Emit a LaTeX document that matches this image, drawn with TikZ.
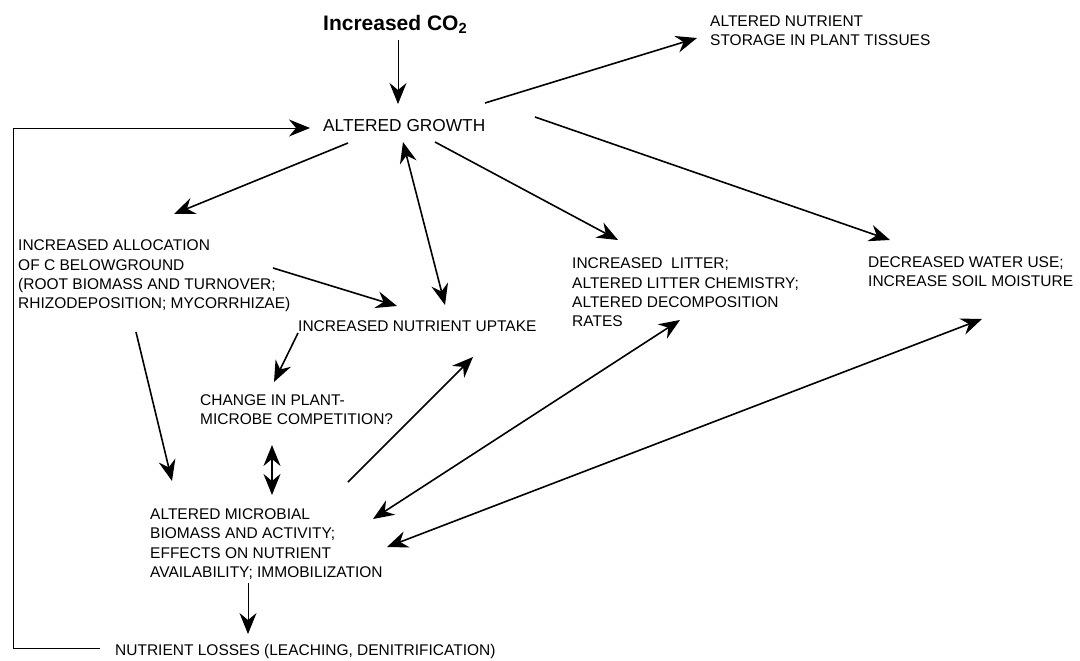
\documentclass[tikz,border=0pt]{standalone}
\usepackage{fontspec}
\setmainfont{Liberation Sans}
\usetikzlibrary{arrows.meta}
\begin{document}
\begin{tikzpicture}[x=1pt,y=-1pt,
  tip/.tip={Stealth[length=21pt,width=17pt,inset=7pt]},
  lbl/.style={anchor=west,inner sep=0pt,align=left,font=\fontsize{15.5}{19.3}\selectfont},
  arr/.style={line width=1.6pt,-tip},
  darr/.style={line width=1.6pt,tip-tip},
  tarr/.style={line width=1pt,-tip}]
\useasboundingbox (0,0) rectangle (1080,661);

% nodes
\node[anchor=west,inner sep=0pt,font=\fontsize{21}{24}\selectfont\bfseries] (co2) at (323,24) {Increased CO\textsubscript{2}};
\node[lbl,font=\fontsize{17.3}{20}\selectfont] (growth) at (323,126) {ALTERED GROWTH};
\node[lbl] (storage) at (710,31) {ALTERED NUTRIENT\\STORAGE IN PLANT TISSUES};
\node[lbl] (alloc) at (18,276) {INCREASED ALLOCATION\\OF C BELOWGROUND\\(ROOT BIOMASS AND TURNOVER;\\RHIZODEPOSITION; MYCORRHIZAE)};
\node[lbl] (litter) at (572,292.5) {INCREASED\ \ LITTER;\\ALTERED LITTER CHEMISTRY;\\ALTERED DECOMPOSITION\\RATES};
\node[lbl] (water) at (868,272) {DECREASED WATER USE;\\INCREASE SOIL MOISTURE};
\node[lbl] (uptake) at (298,326) {INCREASED NUTRIENT UPTAKE};
\node[lbl] (compet) at (200,410) {CHANGE IN PLANT-\\MICROBE COMPETITION?};
\node[lbl] (microb) at (150,544) {ALTERED MICROBIAL\\BIOMASS AND ACTIVITY;\\EFFECTS ON NUTRIENT\\AVAILABILITY; IMMOBILIZATION};
\node[lbl] (losses) at (115,651) {NUTRIENT LOSSES (LEACHING, DENITRIFICATION)};

% connector end points
\coordinate (co2s) at (398,40);
\coordinate (gtop) at (398,104);
\coordinate (gst) at (485,103);
\coordinate (stw) at (697,38);
\coordinate (gwa) at (535,117);
\coordinate (wan) at (890,240);
\coordinate (gal) at (348,143);
\coordinate (aln) at (174,214);
\coordinate (gup) at (403,142);
\coordinate (upg) at (445,305);
\coordinate (gli) at (435,142);
\coordinate (lin) at (618,240);
\coordinate (alu) at (273,268);
\coordinate (uaw) at (397,306);
\coordinate (upc) at (298,333);
\coordinate (cpn) at (274,382);
\coordinate (cps) at (272,445);
\coordinate (mcn) at (272,495);
\coordinate (alm) at (136,332);
\coordinate (mca) at (172,481);
\coordinate (mcu) at (348,482);
\coordinate (ups) at (473,357);
\coordinate (mcl) at (373,519);
\coordinate (lis) at (680,320);
\coordinate (mcw) at (387,547);
\coordinate (was) at (982,319);
\coordinate (mcs) at (248,583);
\coordinate (lsn) at (248,634);
\coordinate (fb1) at (100,648);
\coordinate (fb2) at (13,648);
\coordinate (fb3) at (13,128);
\coordinate (gw) at (310,128);

% connectors
\draw[tarr] (co2s) -- (gtop);
\draw[arr] (gst) -- (stw);
\draw[arr] (gwa) -- (wan);
\draw[arr] (gal) -- (aln);
\draw[darr] (gup) -- (upg);
\draw[arr] (gli) -- (lin);
\draw[arr] (alu) -- (uaw);
\draw[arr] (upc) -- (cpn);
\draw[darr] (cps) -- (mcn);
\draw[arr] (alm) -- (mca);
\draw[arr] (mcu) -- (ups);
\draw[darr] (mcl) -- (lis);
\draw[darr] (mcw) -- (was);
\draw[tarr] (mcs) -- (lsn);
\draw[tarr] (fb1) -- (fb2) -- (fb3) -- (gw);
\end{tikzpicture}
\end{document}
